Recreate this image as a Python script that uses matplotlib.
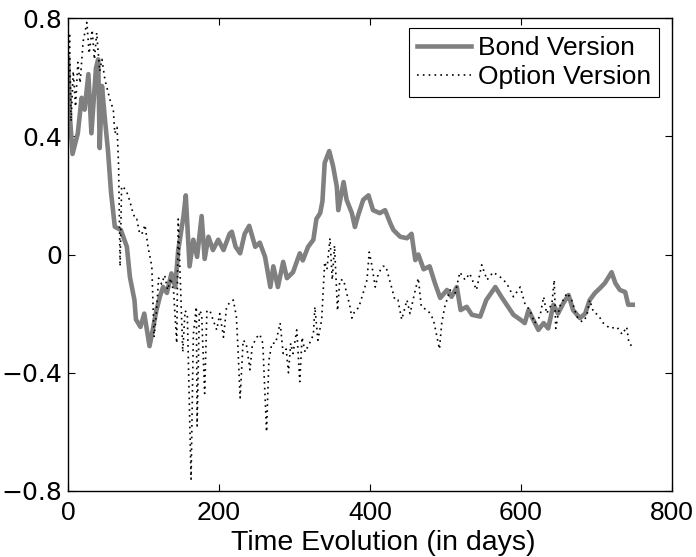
import matplotlib
matplotlib.use("Agg")
import matplotlib.pyplot as plt

# Bond Version (grey, solid)
bond_days = [0, 3, 6, 10, 13, 18, 22, 27, 31, 37, 40, 42, 45, 49, 53, 57, 62, 70, 78, 82,
             88, 90, 96, 101, 108, 113, 117, 122, 126, 131, 137, 142, 146, 153, 156, 161, 166, 171, 177, 181,
             186, 192, 199, 206, 214, 217, 222, 228, 234, 240, 248, 254, 261, 268, 272, 278, 285, 290, 298, 307,
             311, 318, 325, 329, 334, 337, 340, 346, 351, 356, 358, 365, 369, 376, 380, 384, 391, 398, 404, 413,
             420, 427, 431, 440, 449, 455, 460, 464, 471, 479, 486, 493, 502, 508, 515, 520, 528, 535, 546, 554,
             566, 574, 583, 590, 599, 605, 610, 616, 623, 630, 636, 643, 649, 656, 663, 669, 678, 685, 691, 698,
             705, 711, 720, 725, 731, 738, 742, 748]
bond_vals = [0.665, 0.45, 0.34, 0.38, 0.41, 0.53, 0.49, 0.61, 0.41, 0.63, 0.66, 0.36, 0.57, 0.455, 0.35, 0.21, 0.094, 0.083, 0.026, -0.076,
             -0.154, -0.22, -0.245, -0.2, -0.31, -0.245, -0.19, -0.14, -0.11, -0.13, -0.064, -0.11, 0.015, 0.13, 0.2, -0.04, 0.05, -0.008, 0.13, -0.015,
             0.06, 0.015, 0.05, 0.015, 0.07, 0.077, 0.026, 0.004, 0.07, 0.097, 0.026, 0.04, -0.008, -0.11, -0.04, -0.11, -0.025, -0.08, -0.06, 0.004,
             -0.02, 0.026, 0.05, 0.12, 0.14, 0.18, 0.31, 0.35, 0.30, 0.23, 0.15, 0.245, 0.185, 0.14, 0.093, 0.13, 0.185, 0.2, 0.15, 0.14,
             0.15, 0.105, 0.083, 0.06, 0.055, 0.07, -0.019, 0.0, -0.05, -0.04, -0.097, -0.147, -0.12, -0.143, -0.11, -0.188, -0.177, -0.204, -0.21, -0.154,
             -0.11, -0.143, -0.177, -0.204, -0.22, -0.232, -0.188, -0.22, -0.255, -0.232, -0.25, -0.17, -0.2, -0.165, -0.137, -0.188, -0.215, -0.2, -0.154, -0.13,
             -0.113, -0.097, -0.06, -0.097, -0.12, -0.127, -0.17, -0.17]

# Option Version (black, dotted)
opt_days = [0, 2, 4, 7, 10, 13, 16, 20, 25, 28, 32, 35, 38, 42, 45, 49, 53, 56, 60, 62,
            65, 67, 69, 71, 73, 78, 82, 85, 89, 91, 95, 98, 102, 106, 111, 114, 117, 120, 124, 128,
            132, 136, 140, 144, 146, 149, 152, 155, 158, 163, 166, 170, 171, 174, 177, 181, 184, 188, 192, 197,
            201, 206, 210, 215, 219, 223, 225, 228, 232, 236, 241, 244, 250, 254, 258, 263, 266, 270, 275, 281,
            285, 289, 292, 295, 298, 303, 307, 310, 314, 318, 322, 325, 327, 331, 336, 340, 343, 347, 350, 353,
            357, 360, 365, 369, 373, 376, 380, 385, 391, 396, 399, 402, 407, 411, 417, 421, 426, 429, 433, 437,
            442, 449, 453, 460, 464, 468, 477, 484, 488, 492, 495, 499, 506, 513, 519, 526, 532, 541, 548, 555,
            563, 572, 581, 590, 599, 605, 612, 618, 625, 630, 634, 641, 644, 646, 651, 661, 667, 674, 681, 687,
            691, 696, 702, 709, 718, 727, 734, 740, 743, 747]
opt_vals = [0.5, 0.75, 0.45, 0.62, 0.5, 0.65, 0.58, 0.72, 0.785, 0.68, 0.76, 0.66, 0.75, 0.62, 0.66, 0.59, 0.55, 0.52, 0.49, 0.41,
            0.43, 0.3, -0.04, 0.23, 0.23, 0.21, 0.18, 0.15, 0.12, 0.12, 0.07, 0.07, 0.1, 0.026, -0.04, -0.28, -0.2, -0.08, -0.1, -0.07,
            -0.12, -0.08, -0.13, -0.3, 0.12, -0.1, -0.33, -0.19, -0.2, -0.76, -0.27, -0.177, -0.58, -0.19, -0.2, -0.47, -0.19, -0.19, -0.22, -0.255,
            -0.2, -0.28, -0.177, -0.16, -0.154, -0.21, -0.31, -0.485, -0.29, -0.3, -0.39, -0.31, -0.28, -0.27, -0.3, -0.6, -0.36, -0.3, -0.3, -0.232,
            -0.335, -0.32, -0.4, -0.3, -0.335, -0.255, -0.43, -0.28, -0.33, -0.31, -0.29, -0.27, -0.177, -0.29, -0.22, -0.025, -0.05, 0.055, -0.086, 0.03,
            -0.19, -0.086, -0.086, -0.13, -0.17, -0.215, -0.19, -0.18, -0.13, -0.086, 0.008, -0.03, -0.11, -0.064, -0.04, -0.04, -0.086, -0.115, -0.154, -0.154,
            -0.22, -0.154, -0.2, -0.12, -0.08, -0.177, -0.19, -0.22, -0.27, -0.32, -0.232, -0.177, -0.12, -0.13, -0.06, -0.086, -0.064, -0.12, -0.035, -0.086,
            -0.06, -0.075, -0.097, -0.143, -0.11, -0.165, -0.19, -0.232, -0.21, -0.143, -0.2, -0.165, -0.086, -0.25, -0.177, -0.13, -0.154, -0.21, -0.228, -0.21,
            -0.154, -0.195, -0.204, -0.232, -0.25, -0.245, -0.27, -0.245, -0.3, -0.31]

xticks = [0, 200, 400, 600, 800]
yticks = [-0.8, -0.4, 0, 0.4, 0.8]
ytick_labels = ["\u22120.8", "\u22120.4", "0", "0.4", "0.8"]

fig = plt.figure(figsize=(6.96, 5.57), dpi=100)
ax = fig.add_axes([68/696, 66/557, 604/696, 473/557])

ax.plot(bond_days, bond_vals, color="#808080", lw=3.3, label="Bond Version")
ax.plot(opt_days, opt_vals, color="black", lw=1.2, ls=(0, (1, 2.5)), label="Option Version")

ax.set_xlim(0, 800)
ax.set_ylim(-0.8, 0.8)
ax.set_xticks(xticks)
ax.set_yticks(yticks)
ax.set_yticklabels(ytick_labels, fontsize=18, family="DejaVu Sans")
ax.set_xticklabels([str(t) for t in xticks], fontsize=19, family="Liberation Sans")
ax.tick_params(direction="in", length=5, width=0.8, top=True, right=True)
ax.tick_params(axis="y", pad=4)
ax.tick_params(axis="x", pad=7)
for s in ax.spines.values():
    s.set_linewidth(1.0)

ax.set_xlabel("Time Evolution (in days)", fontsize=20.5, family="Liberation Sans")
ax.xaxis.set_label_coords(0.522, -0.083)

leg = ax.legend(loc="upper right", bbox_to_anchor=(0.9785, 0.9789),
                prop={"family": "Liberation Sans", "size": 19},
                handlelength=2.05, handletextpad=0.25, borderpad=0.3,
                labelspacing=0.2, borderaxespad=0, fancybox=False,
                framealpha=1, edgecolor="black")
leg.get_frame().set_linewidth(0.8)

fig.savefig("out.png", dpi=100)
